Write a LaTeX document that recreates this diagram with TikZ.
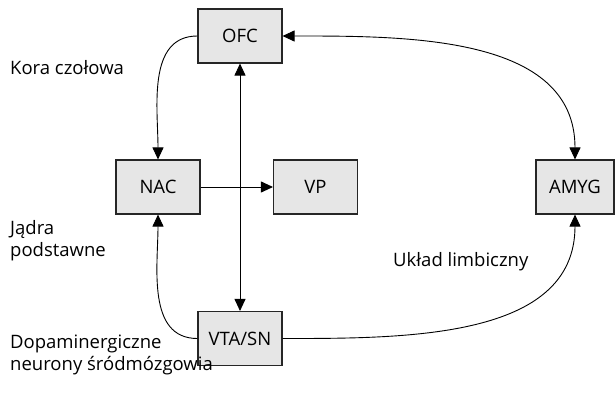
\documentclass[tikz,border=0pt]{standalone}
\usepackage{fontspec}
\setmainfont{Open Sans}
\usetikzlibrary{arrows.meta}
\definecolor{boxfill}{HTML}{E6E6E6}
\begin{document}
\begin{tikzpicture}[x=1pt,y=-1pt,
  font=\fontsize{18.5}{22}\selectfont,
  boxnode/.style={draw=black!85, line width=1.1pt, fill=boxfill, minimum width=84pt, minimum height=54pt, inner sep=0pt},
  labelnode/.style={anchor=base west, align=left, inner sep=0pt},
  conn/.style={line width=0.9pt},
  tip/.tip={Triangle[length=12pt,width=11pt]}
]
\useasboundingbox (0,0) rectangle (615,402);
\node[boxnode] (ofc) at (240,36) {OFC};
\node[boxnode] (nac) at (158,187) {NAC};
\node[boxnode] (vp) at (315.5,187) {VP};
\node[boxnode, minimum width=78pt] (amyg) at (575,187) {AMYG};
\node[boxnode] (vta) at (240,338.5) {VTA/SN};

\node[labelnode] (kora) at (10,74) {Kora czołowa};
\node[labelnode] (jadra) at (10,256) {Jądra\\podstawne};
\node[labelnode] (dopa) at (10,370) {Dopaminergiczne\\neurony śródmózgowia};
\node[labelnode] (limb) at (393,266) {Układ limbiczny};

\draw[conn,-tip] (ofc.west) to[out=180,in=90] (nac.north);
\draw[conn,-tip] (vta.west) to[out=180,in=-90] (nac.south);
\draw[conn,-tip] (nac.east) -- (vp.west);
\draw[conn,tip-tip] (ofc.south) -- (vta.north);
\draw[conn,tip-tip] (ofc.east) to[out=0,in=90] (amyg.north);
\draw[conn,-tip] (vta.east) to[out=0,in=-90] (amyg.south);
\end{tikzpicture}
\end{document}
